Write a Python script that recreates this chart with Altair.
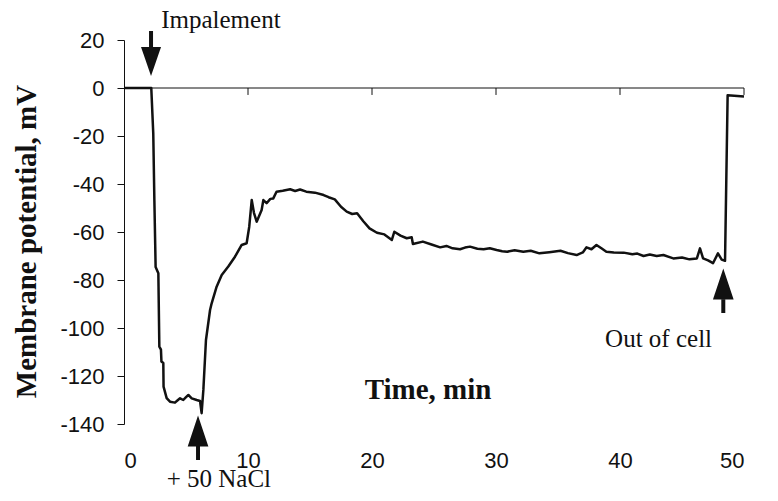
import altair as alt
import pandas as pd

# ---- data ----
time_min = [0, 2.2, 2.36, 2.45, 2.55, 2.77, 2.85, 2.98, 3.02, 3.17, 3.19, 3.44, 3.71, 4.11, 4.35,
            4.52, 4.78, 5.0, 5.19, 5.46, 5.86, 6.13, 6.26, 6.4, 6.61, 6.94, 7.07, 7.47, 7.88, 8.41,
            8.95, 9.49, 9.89, 10.1, 10.3, 10.48, 10.7, 11.1, 11.24, 11.5, 11.8, 12.04, 12.3, 12.8,
            13.4, 13.8, 14.2, 14.7, 15.4, 16.1, 16.5, 17.0, 17.5, 17.96, 18.4, 18.8, 19.3, 19.8,
            20.4, 21.0, 21.6, 21.8, 22.3, 22.8, 23.2, 23.3, 24.1, 24.8, 25.5, 26.0, 26.5, 27.1,
            27.5, 27.9, 28.5, 29.0, 29.5, 30.05, 30.5, 30.9, 31.5, 32.2, 32.8, 33.5, 34.3, 35.2,
            35.8, 36.5, 37.0, 37.3, 37.7, 38.1, 38.5, 38.9, 39.5, 40.3, 41.0, 41.4, 41.9, 42.4,
            42.96, 43.5, 44.3, 45.0, 45.6, 46.2, 46.45, 46.7, 47.1, 47.5, 47.9, 48.2, 48.47,
            48.68, 50.0]
potential_mv = [0, 0, -19, -47, -74.6, -77.2, -107.8, -109, -114, -114.6, -124.4, -129.2, -130.7,
                -131.1, -130, -129.3, -130, -128.8, -127.9, -129.3, -130, -130.4, -135.5, -125.8,
                -105, -92.5, -89.7, -82.8, -77.9, -74.4, -70.3, -65.4, -64.7, -57.8, -46.7, -52,
                -55.7, -50.8, -46.7, -48, -46.2, -46, -43.2, -42.8, -42.2, -42.9, -42.3, -43.2,
                -43.6, -44.6, -45.5, -46.4, -49.5, -51.5, -52.5, -52.2, -55.5, -58.5, -60.3, -61,
                -63.3, -59.9, -61.5, -62.6, -62.2, -65, -64, -65.2, -66.4, -65.8, -66.8, -67.2,
                -66.5, -66.1, -67, -67.2, -66.8, -67.5, -68, -68.2, -67.6, -68.2, -67.8, -68.9,
                -68.4, -67.8, -68.8, -69.6, -68.5, -66.4, -67.2, -65.4, -66.8, -68.2, -68.5,
                -68.6, -69.3, -69.0, -70, -69.4, -70, -69.6, -71, -70.6, -71.4, -71, -66.8, -71,
                -71.8, -73, -68.9, -71.5, -72, -3, -3.5]

x_tick_values = [0, 10, 20, 30, 40, 50]
zero_line_ticks = [10, 20, 30, 40, 50]
y_tick_values = [20, 0, -20, -40, -60, -80, -100, -120, -140]

# annotations
ann_labels = ["Impalement", "+ 50 NaCl", "Out of cell"]
ann_x = [3.0, 3.44, 38.8]
ann_y = [24.9, -166.4, -107.8]

arrow_x = [2.18, 5.97, 48.33]
arrow_shaft_from = [23.75, -149.0, -88.0]
arrow_shaft_to = [17.0, -155.0, -93.75]
arrow_head_y = [11.0, -142.9, -81.7]
arrow_dir = ["down", "up", "up"]

# ---- chart ----
xscale = alt.Scale(domain=[0, 50], nice=False, zero=False)
yscale = alt.Scale(domain=[-140, 20], nice=False, zero=False)

xaxis = alt.Axis(
    values=x_tick_values, domain=False, ticks=False, tickSize=0, grid=False,
    labelFont="Liberation Sans", labelFontSize=22, labelColor="#111111", labelPadding=26,
    labelExpr="'' + datum.value",
    title="Time, min", titleFont="Liberation Serif", titleFontSize=29, titleFontWeight="bold",
    titleColor="#111111", titleX=303.5, titleY=-25.7, titleBaseline="alphabetic",
    titleAlign="center")
yaxis = alt.Axis(
    values=y_tick_values, grid=False, domainColor="#111111", domainWidth=1,
    tickColor="#111111", tickSize=7, tickWidth=1,
    labelFont="Liberation Sans", labelFontSize=22, labelColor="#111111", labelPadding=13,
    labelExpr="'' + datum.value",
    title="Membrane potential, mV", titleFont="Liberation Serif", titleFontSize=29,
    titleFontWeight="bold", titleColor="#111111", titleAngle=270, titleX=-89, titleY=201,
    titleBaseline="alphabetic", titleAlign="center")


def X(field):
    return alt.X(field, scale=xscale, axis=xaxis, title="Time, min")


def Y(field):
    return alt.Y(field, scale=yscale, axis=yaxis, title="Membrane potential, mV")


trace = pd.DataFrame({"t": time_min, "v": potential_mv})
line = alt.Chart(trace).mark_line(color="#111111", strokeWidth=2.5, strokeJoin="round").encode(
    x=X("t:Q"), y=Y("v:Q"))

zero_df = pd.DataFrame({"x0": [0], "x1": [50], "y": [0]})
zero_line = alt.Chart(zero_df).mark_rule(color="#111111", strokeWidth=1).encode(
    x=X("x0:Q"), x2="x1:Q", y=Y("y:Q"))

ticks_df = pd.DataFrame({"x": zero_line_ticks, "y0": [0] * 5, "y1": [-2.9] * 5})
zero_ticks = alt.Chart(ticks_df).mark_rule(color="#111111", strokeWidth=1).encode(
    x=X("x:Q"), y=Y("y0:Q"), y2="y1:Q")

arrows_df = pd.DataFrame({"x": arrow_x, "y0": arrow_shaft_from, "y1": arrow_shaft_to,
                          "hy": arrow_head_y, "dir": arrow_dir})
shafts = alt.Chart(arrows_df).mark_rule(color="#111111", strokeWidth=4).encode(
    x=X("x:Q"), y=Y("y0:Q"), y2="y1:Q")
heads_up = alt.Chart(arrows_df).transform_filter(alt.datum.dir == "up").mark_point(
    shape="M0,-1L0.667,1L-0.667,1Z", size=960, filled=True, color="#111111",
    opacity=1, strokeWidth=0).encode(x=X("x:Q"), y=Y("hy:Q"))
heads_down = alt.Chart(arrows_df).transform_filter(alt.datum.dir == "down").mark_point(
    shape="M0,1L0.69,-1L-0.69,-1Z", size=841, filled=True, color="#111111",
    opacity=1, strokeWidth=0).encode(x=X("x:Q"), y=Y("hy:Q"))

ann_df = pd.DataFrame({"label": ann_labels, "x": ann_x, "y": ann_y})
texts = alt.Chart(ann_df).mark_text(align="left", baseline="alphabetic",
                                    font="Liberation Serif", fontSize=25,
                                    color="#111111").encode(
    x=X("x:Q"), y=Y("y:Q"), text="label:N")

chart = alt.layer(line, zero_line, zero_ticks, shafts, heads_up, heads_down, texts).properties(
    width=620, height=384,
    autosize=alt.AutoSizeParams(type="none"),
    padding={"left": 116, "top": 32, "right": 20, "bottom": 65},
).configure_view(stroke=None)

chart.save("out.html", embed_options={"renderer": "svg", "actions": False})
